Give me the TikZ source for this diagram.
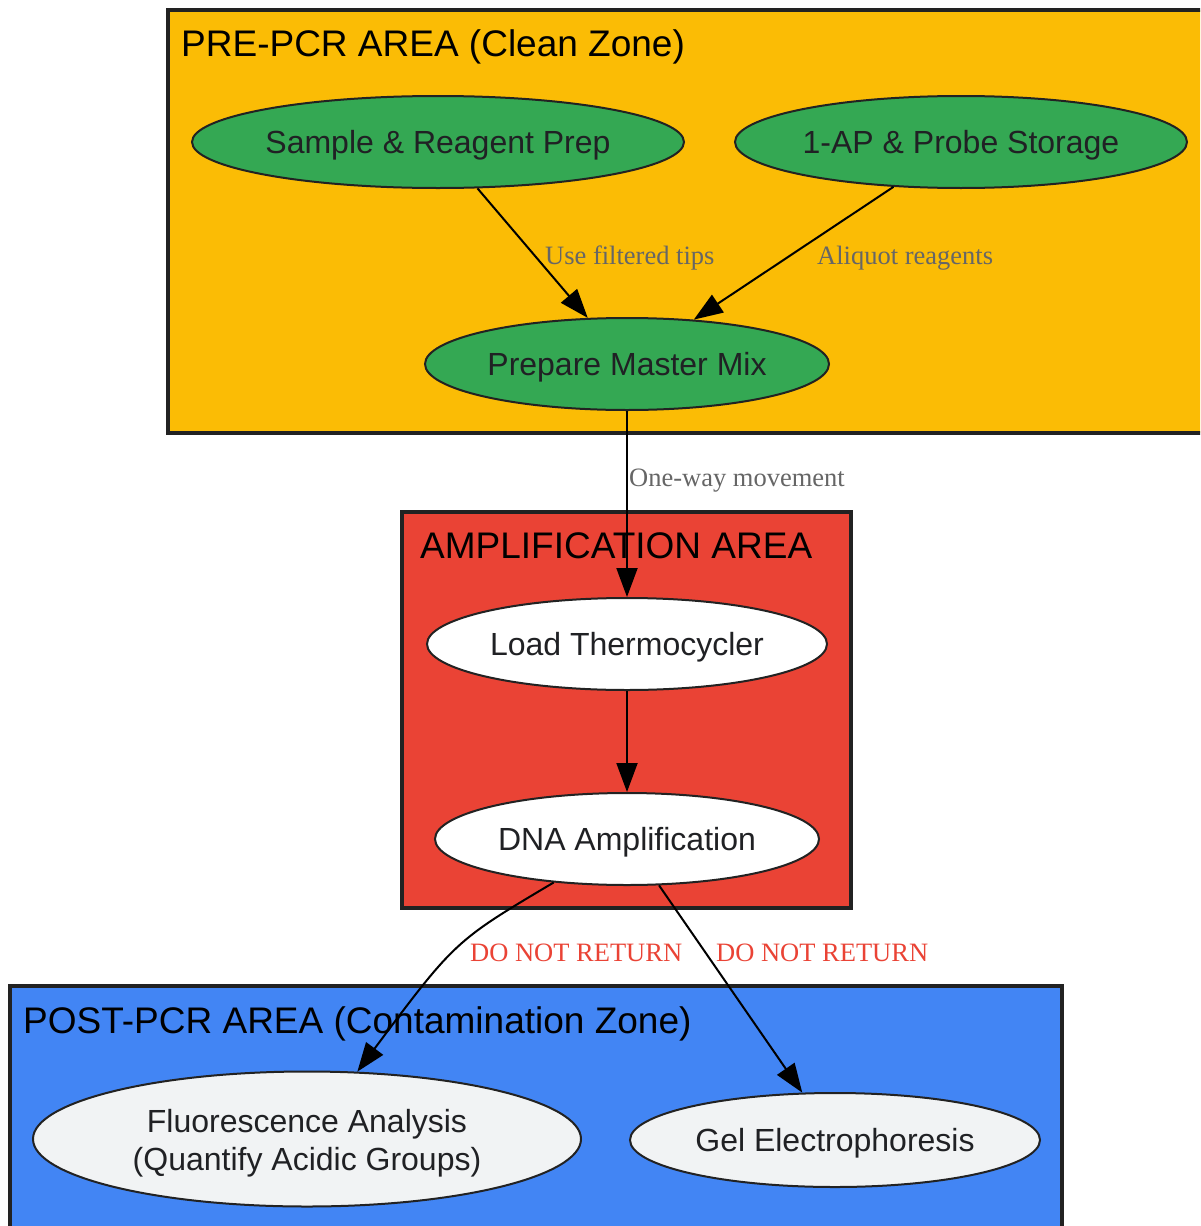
\documentclass[tikz,border=0pt]{standalone}
\usepackage{fontspec}
\setmainfont{Liberation Sans}
\newfontfamily\edgefont{Liberation Serif}
\usetikzlibrary{arrows.meta,shapes.geometric}
\definecolor{gyellow}{HTML}{FBBC05}
\definecolor{ggreen}{HTML}{34A853}
\definecolor{gred}{HTML}{EA4335}
\definecolor{gblue}{HTML}{4285F4}
\definecolor{glight}{HTML}{F1F3F4}
\definecolor{boxline}{HTML}{222222}
\definecolor{textdark}{HTML}{202124}
\definecolor{labelgray}{HTML}{666666}
\definecolor{labelred}{HTML}{EA4335}
\begin{document}
\begin{tikzpicture}[x=1pt,y=-1pt,
  zone/.style={draw=boxline,line width=4pt},
  ztitle/.style={anchor=base west,inner sep=0pt,text=black,font=\fontsize{37}{44}\selectfont},
  oval/.style={ellipse,draw=boxline,line width=2pt,inner sep=0pt,text=textdark,
    font=\fontsize{32}{38}\selectfont,align=center,text height=22.9pt,text depth=0pt},
  flow/.style={-{Triangle[length=29pt,width=21pt]},line width=2pt,draw=black},
  elabel/.style={anchor=base west,inner sep=0pt,text=labelgray,font=\edgefont\fontsize{26.5}{30}\selectfont},
  rlabel/.style={elabel,text=labelred}]
\clip (0,0) rectangle (1200,1226);
\fill[white] (0,0) rectangle (1200,1226);
% zones
\draw[zone,fill=gyellow] (168,10) rectangle (1230,433);
\draw[zone,fill=gred] (402,512) rectangle (851,908);
\draw[zone,fill=gblue] (10,986) rectangle (1062,1260);
\node[ztitle] (tpre) at (181,56) {PRE-PCR AREA (Clean Zone)};
\node[ztitle] (tamp) at (420,558) {AMPLIFICATION AREA};
\node[ztitle] (tpost) at (23,1033) {POST-PCR AREA (Contamination Zone)};
% nodes
\node[oval,fill=ggreen,minimum width=492pt,minimum height=92pt] (sample) at (438,142) {Sample \& Reagent Prep};
\node[oval,fill=ggreen,minimum width=452pt,minimum height=92pt] (storage) at (961,142) {1-AP \& Probe Storage};
\node[oval,fill=ggreen,minimum width=404pt,minimum height=92pt] (master) at (627,364) {Prepare Master Mix};
\node[oval,fill=white,minimum width=400pt,minimum height=92pt] (load) at (627,644) {Load Thermocycler};
\node[oval,fill=white,minimum width=384pt,minimum height=92pt] (dna) at (627,839) {DNA Amplification};
\node[oval,fill=glight,minimum width=548pt,minimum height=135pt,text height=63pt] (fluor) at (307,1139) {Fluorescence Analysis\\(Quantify Acidic Groups)};
\node[oval,fill=glight,minimum width=410pt,minimum height=94pt] (gel) at (835,1140) {Gel Electrophoresis};
% edges
\draw[flow] (sample) -- (master);
\draw[flow] (storage) -- (master);
\draw[flow] (master) -- (load);
\draw[flow] (load) -- (dna);
\draw[flow] (dna) .. controls (455,941) .. (fluor);
\draw[flow] (dna) -- (gel);
% edge labels
\node[elabel] (l1) at (545,264) {Use filtered tips};
\node[elabel] (l2) at (817,264) {Aliquot reagents};
\node[elabel] (l3) at (629,486) {One-way movement};
\node[rlabel] (l4) at (470,961) {DO NOT RETURN};
\node[rlabel] (l5) at (716,961) {DO NOT RETURN};
\end{tikzpicture}
\end{document}
